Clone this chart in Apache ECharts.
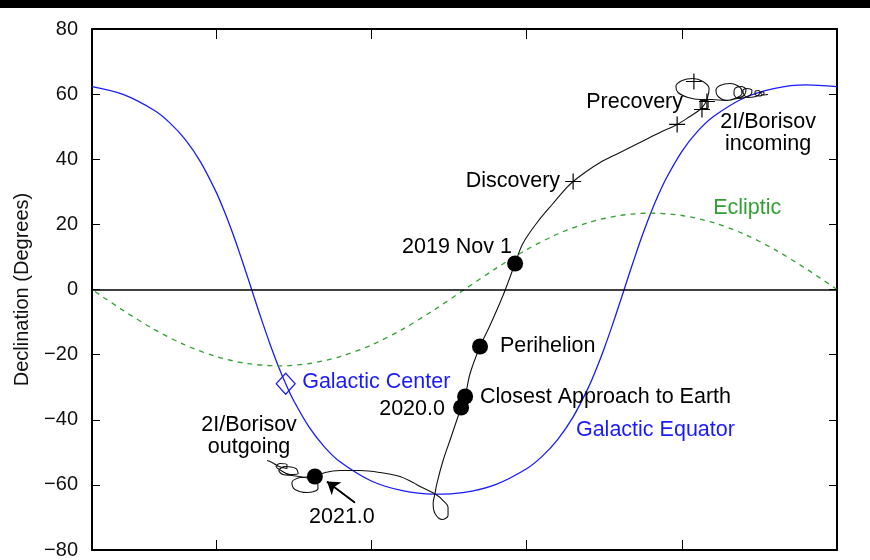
<!DOCTYPE html>
<html>
<head>
<meta charset="utf-8">
<script src="https://cdn.jsdelivr.net/npm/echarts@6/dist/echarts.min.js"></script>
<style>
  html, body { margin: 0; background: #fff; }
  #chart { width: 870px; height: 560px; }
</style>
</head>
<body>
<div id="chart"></div>
<script>
// right ascension (hours) and declination (degrees)

// galactic equator
var galRA  = [0, 1, 2, 3, 4, 4.5, 5, 5.5, 5.75, 6, 6.25, 6.5, 6.75, 7, 7.25, 7.5, 7.75, 8, 8.5, 9, 9.5, 10, 11, 12,
              13, 14, 15, 16, 16.5, 17, 17.5, 17.75, 18, 18.25, 18.5, 18.75, 19, 19.25, 19.5, 19.75, 20, 20.5, 21, 21.5, 22, 23, 24];
var galDec = [62.28, 62.85, 61.80, 58.82, 52.99, 48.47, 42.37, 34.18, 29.16, 23.48, 17.17, 10.33, 3.14, -4.17, -11.33, -18.10, -24.32, -29.91, -39.13, -46.08, -51.24, -55.04, -59.90, -62.28,
              -62.85, -61.80, -58.82, -52.99, -48.47, -42.37, -34.18, -29.16, -23.48, -17.17, -10.33, -3.14, 4.17, 11.33, 18.10, 24.32, 29.91, 39.13, 46.08, 51.24, 55.04, 59.90, 62.28];

// ecliptic
var eclRA  = [0, 1, 2, 3, 4, 5, 6, 7, 8, 9, 10, 11, 12, 13, 14, 15, 16, 17, 18, 19, 20, 21, 22, 23, 24];
var eclDec = [0, 6.40, 12.23, 17.05, 20.58, 22.73, 23.44, 22.73, 20.58, 17.05, 12.23, 6.40, 0,
              -6.40, -12.23, -17.05, -20.58, -22.73, -23.44, -22.73, -20.58, -17.05, -12.23, -6.40, 0];

// 2I/Borisov path, incoming (right) to outgoing (left)
var trajRA = [2.22,
  2.35, 2.45, 2.45, 2.38, 2.35, 2.42,
  2.54, 2.64, 2.64, 2.54, 2.48, 2.51, 2.61,
  2.90, 3.00, 3.03, 2.90, 2.74, 2.77, 2.96,
  3.19, 3.32, 3.29, 3.09, 2.93, 3.00, 3.22,
  3.54, 3.83, 3.90, 3.77, 3.45, 3.12, 3.06, 3.29, 3.61,
  4.03, 4.41, 4.80, 5.12, 5.19, 4.99, 4.64, 4.32, 4.12, 4.16, 4.25, 4.41, 4.74, 5.15,
  5.70, 6.35, 6.99, 7.63, 8.12, 8.50, 8.70, 9.15, 9.66, 10.12, 10.37, 10.76, 11.18, 11.50,
  11.82, 11.98, 12.11, 12.47, 12.69, 12.89, 12.95, 13.01, 12.95, 12.72, 12.53, 12.53, 12.69, 12.92,
  13.43, 13.66, 14.08, 14.72, 15.37, 16.01, 16.49, 16.82,
  17.30, 17.56, 17.46, 17.07, 16.72, 16.75, 17.14, 17.56, 17.85, 17.98, 17.78, 17.43, 17.36,
  17.62, 17.91, 18.07, 17.94, 17.72, 17.72, 17.98, 18.20, 18.36];
var trajDec = [59.89,
  59.74, 60.20, 60.66, 60.66, 60.20, 59.58,
  59.43, 60.04, 60.81, 61.12, 60.66, 59.89, 59.28,
  58.97, 59.89, 61.12, 61.73, 61.12, 59.89, 58.97,
  58.66, 60.20, 61.73, 62.35, 61.43, 59.58, 58.66,
  58.05, 59.28, 61.12, 62.65, 63.27, 62.04, 60.20, 58.66, 58.05,
  58.35, 58.35, 58.97, 60.50, 62.35, 64.19, 64.80, 63.88, 61.73, 59.28, 57.13, 55.28, 53.13, 50.68,
  48.22, 45.15, 42.08, 39.01, 35.93, 33.17, 31.33, 26.41, 20.58, 14.13, 7.99, -1.84, -11.06, -17.51,
  -25.80, -32.86, -36.24, -46.38, -52.52, -59.58, -62.65, -65.73, -68.80, -70.64, -69.41, -66.95, -64.80, -62.96,
  -60.51, -59.28, -57.43, -56.20, -55.59, -55.59, -56.20, -57.43,
  -57.74, -59.28, -61.43, -62.35, -61.12, -58.97, -57.74, -57.13, -56.82, -55.59, -54.36, -54.98, -56.51,
  -56.82, -55.59, -54.36, -53.44, -53.75, -54.98, -54.36, -53.13, -52.52];

// dated points: 2019 Nov 1, perihelion, closest approach, 2020.0, 2021.0
var dotRA  = [10.37, 11.50, 11.98, 12.11, 16.82];
var dotDec = [7.99, -17.51, -32.86, -36.24, -57.43];

// observations (crosses) and the square one
var obsRA  = [8.50, 4.61, 4.19, 4.35, 5.15];
var obsDec = [33.17, 63.88, 57.74, 55.28, 50.68];
var sqRA  = [4.28];
var sqDec = [56.82];

var gcRA = [17.76];
var gcDec = [-28.94];

// arrow pointing at 2021.0
var arrowRA  = [15.53, 16.43];
var arrowDec = [-65.42, -58.97];

function zip(a, b) {
    return a.map(function (v, i) { return [v, b[i]]; });
}

var FONT = 'Liberation Sans, Arial, Helvetica, sans-serif';
var BLUE = '#1a1aff';
var GREEN = '#33a033';

function minus(v) {
    return String(v).replace('-', '\u2212');
}

// text notes, anchored in data units
var notes = [
    { t: 'Precovery', p: [4.96, 57.43], a: 'right', c: '#000' },
    { t: '2I/Borisov\nincoming', p: [2.22, 48.07], a: 'center', c: '#000' },
    { t: 'Discovery', p: [8.92, 33.17], a: 'right', c: '#000' },
    { t: '2019 Nov 1', p: [10.47, 12.90], a: 'right', c: '#000' },
    { t: 'Perihelion', p: [10.86, -17.51], a: 'left', c: '#000' },
    { t: 'Closest Approach to Earth', p: [11.50, -33.17], a: 'left', c: '#000' },
    { t: '2020.0', p: [12.63, -36.86], a: 'right', c: '#000' },
    { t: 'Galactic Center', p: [17.23, -28.56], a: 'left', c: BLUE },
    { t: 'Galactic Equator', p: [8.41, -43.31], a: 'left', c: BLUE },
    { t: 'Ecliptic', p: [3.99, 24.88], a: 'left', c: GREEN },
    { t: '2I/Borisov\noutgoing', p: [18.94, -45.15], a: 'center', c: '#000' },
    { t: '2021.0', p: [15.95, -70.03], a: 'center', c: '#000' }
];

function xAx(pos) {
    return {
        type: 'value', min: 0, max: 24, interval: 5, inverse: true, position: pos,
        axisLine: { show: true, onZero: false, lineStyle: { color: '#000', width: 2 } },
        axisTick: { show: true, inside: true, length: 10, lineStyle: { color: '#000', width: 1 } },
        axisLabel: { show: false },
        splitLine: { show: false }
    };
}

function yAx(pos) {
    var ax = {
        type: 'value', min: -80, max: 80, interval: 20, position: pos,
        axisLine: { show: true, onZero: false, lineStyle: { color: '#000', width: 2 } },
        axisTick: { show: true, inside: true, length: 8, lineStyle: { color: '#000', width: 1 } },
        axisLabel: { show: false },
        splitLine: { show: false }
    };
    if (pos === 'left') {
        ax.axisLabel = { show: true, fontSize: 20, color: '#111', fontFamily: FONT, margin: 14, formatter: minus };
        ax.name = 'Declination (Degrees)';
        ax.nameLocation = 'middle';
        ax.nameGap = 60;
        ax.nameTextStyle = { fontSize: 20, color: '#111', fontFamily: FONT };
    }
    return ax;
}

var chart = echarts.init(document.getElementById('chart'));

var option = {
    animation: false,
    backgroundColor: '#fff',
    textStyle: { fontFamily: FONT },
    grid: { left: 92, right: 33, top: 29, bottom: 10 },
    xAxis: [xAx('bottom'), xAx('top')],
    yAxis: [yAx('left'), yAx('right')],
    graphic: [
        { type: 'rect', left: 0, top: 0, shape: { width: 870, height: 8 }, style: { fill: '#000' }, z: 100 }
    ],
    series: [
        {
            name: 'Galactic Equator', type: 'line', data: zip(galRA, galDec),
            smooth: 0.3, symbol: 'none',
            lineStyle: { color: BLUE, width: 1.3 },
            markLine: {
                silent: true, symbol: 'none', label: { show: false },
                lineStyle: { color: '#000', width: 1.6, type: 'solid' },
                data: [{ yAxis: 0 }]
            },
            z: 2
        },
        {
            name: 'Ecliptic', type: 'line', data: zip(eclRA, eclDec),
            smooth: 0.3, symbol: 'none',
            lineStyle: { color: GREEN, width: 1.3, type: [5, 5] },
            z: 2
        },
        {
            name: '2I/Borisov', type: 'line', data: zip(trajRA, trajDec),
            smooth: 0.35, symbol: 'none',
            lineStyle: { color: '#111', width: 1.1 },
            z: 3
        },
        {
            name: 'dates', type: 'scatter', data: zip(dotRA, dotDec),
            symbol: 'circle', symbolSize: 16,
            itemStyle: { color: '#000', opacity: 1 },
            z: 4
        },
        {
            name: 'arrow', type: 'line', data: zip(arrowRA, arrowDec),
            symbol: 'none',
            lineStyle: { color: '#000', width: 1.6 },
            markLine: {
                silent: true, symbol: ['none', 'arrow'], symbolSize: 12,
                label: { show: false },
                lineStyle: { color: '#000', width: 1.6, type: 'solid' },
                data: [[{ coord: zip(arrowRA, arrowDec)[0] }, { coord: zip(arrowRA, arrowDec)[1] }]]
            },
            z: 4
        },
        {
            name: 'observations', type: 'scatter', data: zip(obsRA, obsDec),
            symbol: 'path://M0,7.4H16V8.6H0ZM7.4,0H8.6V16H7.4Z', symbolSize: 16,
            itemStyle: { color: '#000', opacity: 1 },
            z: 4
        },
        {
            name: 'square', type: 'scatter', data: zip(sqRA, sqDec),
            symbol: 'rect', symbolSize: 8,
            itemStyle: { color: 'rgba(0,0,0,0)', borderColor: '#000', borderWidth: 1, opacity: 1 },
            z: 4
        },
        {
            name: 'Galactic Center', type: 'scatter', data: zip(gcRA, gcDec),
            symbol: 'diamond', symbolSize: [19, 21],
            itemStyle: { color: 'rgba(255,255,255,0)', borderColor: BLUE, borderWidth: 1.2, opacity: 1 },
            z: 4
        },
        {
            name: 'notes', type: 'scatter',
            symbolSize: 1, itemStyle: { color: 'rgba(0,0,0,0)', opacity: 1 },
            data: notes.map(function (n) {
                return {
                    name: n.t, value: n.p,
                    label: {
                        show: true, position: 'inside', formatter: '{b}',
                        align: n.a, verticalAlign: 'middle', opacity: 1,
                        color: n.c, fontSize: 21.5, lineHeight: 22, fontFamily: FONT
                    }
                };
            }),
            z: 5
        }
    ]
};

chart.setOption(option);
</script>
</body>
</html>
